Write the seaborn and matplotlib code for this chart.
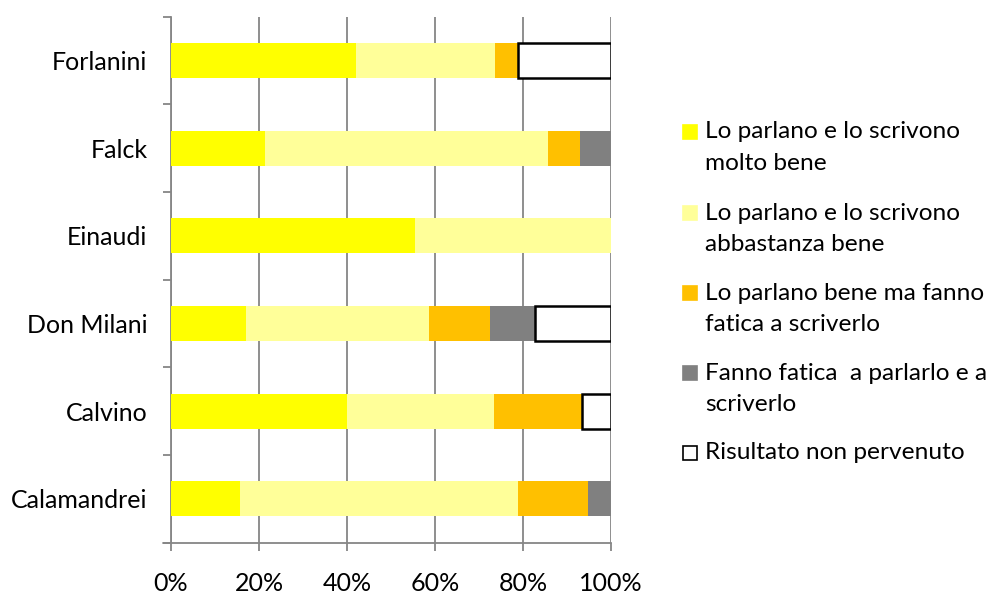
import numpy as np
import pandas as pd
import seaborn as sns
import matplotlib.pyplot as plt
import matplotlib.patches as mpatches

# values (percent of students per school)
categories = ['Forlanini', 'Falck', 'Einaudi', 'Don Milani', 'Calvino', 'Calamandrei']
molto_bene = [42.0, 21.4, 55.5, 17.0, 39.9, 15.7]
abbastanza_bene = [31.7, 64.3, 44.5, 41.6, 33.4, 63.2]
fatica_scrivere = [5.2, 7.2, 0.0, 13.8, 20.0, 15.8]
fatica_entrambi = [0.0, 7.1, 0.0, 10.3, 0.0, 5.3]
non_pervenuto = [21.1, 0.0, 0.0, 17.3, 6.7, 0.0]

legend_labels = ['Lo parlano e lo scrivono\nmolto bene',
                 'Lo parlano e lo scrivono\nabbastanza bene',
                 'Lo parlano bene ma fanno\nfatica a scriverlo',
                 'Fanno fatica  a parlarlo e a\nscriverlo',
                 'Risultato non pervenuto']
xtick_values = [0, 20, 40, 60, 80, 100]

colors = ['#FFFF00', '#FFFF99', '#FFC000', '#808080', '#FFFFFF']
edges = ['none', 'none', 'none', 'none', 'black']
widths = [0, 0, 0, 0, 1.8]

sns.set_style('white')
plt.rcParams['font.family'] = ['Lato', 'DejaVu Sans']
plt.rcParams['text.color'] = 'black'
plt.rcParams['xtick.labelcolor'] = 'black'
plt.rcParams['ytick.labelcolor'] = 'black'
FS = 18
FS_LEG = 17.6
grid_c = '#868686'

W, H = 992, 594
fig = plt.figure(figsize=(W / 100, H / 100), dpi=100)
ax = fig.add_axes([171 / W, 1 - 542.6 / H, 440 / W, (542.6 - 16.7) / H])

series = [molto_bene, abbastanza_bene, fatica_scrivere, fatica_entrambi, non_pervenuto]
left = np.zeros(len(categories))
for vals, col, ec, lw in zip(series, colors, edges, widths):
    df = pd.DataFrame({'Scuola': categories, 'Valore': vals})
    n0 = len(ax.patches)
    sns.barplot(data=df, x='Valore', y='Scuola', orient='h', color=col, saturation=1,
                width=0.4, edgecolor=ec, linewidth=lw, errorbar=None, ax=ax, zorder=3)
    # shift each segment so the bars stack
    for p, l, v in zip(ax.patches[n0:], left, vals):
        p.set_x(l)
        if v == 0:
            p.set_visible(False)
    left += np.array(vals)

ax.set_xlim(0, 100)
ax.set_ylim(5.5, -0.5)
ax.set_xlabel('')
ax.set_ylabel('')
ax.set_xticks(xtick_values)
ax.set_xticklabels([f'{v}%' for v in xtick_values], fontsize=FS, color='black')
ax.set_yticks(range(len(categories)))
ax.set_yticklabels(categories, fontsize=FS, color='black')
ax.set_yticks(np.arange(-0.5, len(categories), 1), minor=True)

ax.xaxis.grid(True, color=grid_c, linewidth=1.3, zorder=0)
ax.yaxis.grid(False)
ax.set_axisbelow(True)

for s in ['top', 'right']:
    ax.spines[s].set_visible(False)
for s in ['left', 'bottom']:
    ax.spines[s].set_color(grid_c)
    ax.spines[s].set_linewidth(1.3)

ax.tick_params(axis='x', which='major', bottom=True, length=6, width=1.3, color=grid_c, pad=15)
ax.tick_params(axis='y', which='major', left=True, length=0, pad=17)
ax.tick_params(axis='y', which='minor', left=True, length=6, width=1.3, color=grid_c)

# little stub of the x axis line to the left of the y axis, as in the reference
ax.plot([-1.9, 0], [5.5, 5.5], color=grid_c, lw=1.3, clip_on=False, zorder=4)

# legend drawn by hand so the swatch sits next to the first line
entry_y = [131.7, 213, 293, 373, 452.7]
line_gap = 31.5
for lab, col, ec, y in zip(legend_labels, colors, edges, entry_y):
    fig.patches.append(mpatches.Rectangle((683 / W, 1 - (y + 7) / H), 14 / W, 14 / H,
                                          facecolor=col, edgecolor='black' if ec == 'black' else col,
                                          linewidth=1.2, transform=fig.transFigure, figure=fig))
    for k, line in enumerate(lab.split('\n')):
        fig.text(705 / W, 1 - (y + k * line_gap) / H, line, fontsize=FS_LEG, va='center', ha='left',
                 color='black')

fig.savefig('out.png', dpi=100)
